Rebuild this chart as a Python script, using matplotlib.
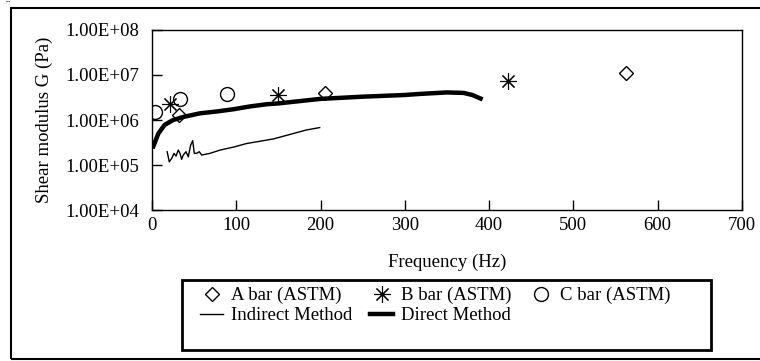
import math
import matplotlib.pyplot as plt
from matplotlib.patches import Rectangle
from matplotlib.ticker import FuncFormatter, FixedLocator, NullLocator

# ASTM bar results (Hz, Pa)
a_freq = [32, 205, 563]
a_G = [1.3e6, 3.9e6, 1.1e7]
b_freq = [21, 150, 422]
b_G = [2.3e6, 3.6e6, 7.4e6]
c_freq = [4, 33, 89]
c_G = [1.5e6, 3.0e6, 3.8e6]

# Indirect method curve
ind_freq = [18, 20.5, 23.4, 26.1, 28.5, 31.2, 33.2, 35.2, 37.1, 40.3, 43.1, 45.9,
            48.3, 50.2, 53, 56.1, 59, 62.9, 68.8, 80.7, 96.5, 112, 144, 183, 199]
ind_G = [1.98e5, 1.18e5, 1.41e5, 1.82e5, 1.58e5, 2.15e5, 1.82e5, 1.34e5, 1.67e5, 1.98e5,
         1.53e5, 2.78e5, 3.47e5, 1.82e5, 1.82e5, 1.98e5, 1.67e5, 1.73e5, 1.82e5, 2.15e5,
         2.5e5, 3.0e5, 3.8e5, 6.0e5, 6.8e5]

# Direct method curve
dir_freq = [1.6, 7.5, 15, 25, 37, 57, 77, 97, 116, 136, 150, 200, 250, 300, 318, 350,
            370, 380, 390]
dir_G = [2.6e5, 5.0e5, 7.8e5, 1.0e6, 1.17e6, 1.41e6, 1.55e6, 1.74e6, 2.0e6, 2.24e6,
         2.34e6, 2.95e6, 3.3e6, 3.6e6, 3.8e6, 4.1e6, 4.0e6, 3.6e6, 3.0e6]

x_ticks = [0, 100, 200, 300, 400, 500, 600, 700]
y_ticks = [1e4, 1e5, 1e6, 1e7, 1e8]

plt.rcParams['font.family'] = ['Liberation Serif', 'DejaVu Serif']
plt.rcParams['font.size'] = 13.5

fig = plt.figure(figsize=(7.6, 3.61), dpi=100)
ax = fig.add_axes([0.2, 0.418, 0.776, 0.499])

l_a, = ax.plot(a_freq, a_G, linestyle='none', marker='D', markersize=7,
               markerfacecolor='white', markeredgecolor='black', markeredgewidth=1,
               label='A bar (ASTM)')
l_ind, = ax.plot(ind_freq, ind_G, color='black', linewidth=1, label='Indirect Method')
l_b, = ax.plot(b_freq, b_G, linestyle='none', marker=(8, 2, 0), markersize=12,
               markeredgecolor='black', markeredgewidth=0.8, label='B bar (ASTM)')
l_dir, = ax.plot(dir_freq, dir_G, color='black', linewidth=3.2, label='Direct Method')
l_c, = ax.plot(c_freq, c_G, linestyle='none', marker='o', markersize=10,
               markerfacecolor='none', markeredgecolor='black', markeredgewidth=1,
               label='C bar (ASTM)')

ax.set_yscale('log')
ax.set_xlim(0, 700)
ax.set_ylim(1e4, 1e8)
ax.xaxis.set_major_locator(FixedLocator(x_ticks))
ax.yaxis.set_major_locator(FixedLocator(y_ticks))
ax.yaxis.set_minor_locator(NullLocator())
ax.yaxis.set_major_formatter(FuncFormatter(lambda v, p: '1.00E+%02d' % round(math.log10(v))))
ax.tick_params(direction='in', length=7, width=1)
ax.tick_params(axis='y', pad=9)
ax.tick_params(axis='x', pad=5)
for s in ax.spines.values():
    s.set_linewidth(1)

ax.set_xlabel('Frequency (Hz)', labelpad=14)
ax.set_ylabel('Shear modulus G (Pa)', labelpad=9)

# legend with a separate box frame
leg = fig.legend(handles=[l_a, l_ind, l_b, l_dir, l_c], ncol=3, loc='upper left',
                 bbox_to_anchor=(185 / 760, 1 - 272 / 361), frameon=False,
                 handlelength=1.25, handletextpad=0.4, borderpad=0.3,
                 labelspacing=0.15, columnspacing=0.95)

fig.patches.append(Rectangle((182 / 760, 11 / 361), 529 / 760, 70 / 361,
                             transform=fig.transFigure, fill=False,
                             edgecolor='black', linewidth=2))
fig.patches.append(Rectangle((11 / 760, 2 / 361), 1.0, 351 / 361, transform=fig.transFigure,
                             fill=False, edgecolor='black', linewidth=1.5))
fig.text(0.008, 1.0, '¨', fontsize=9, va='top', ha='left')

fig.savefig('out.png', dpi=100)
